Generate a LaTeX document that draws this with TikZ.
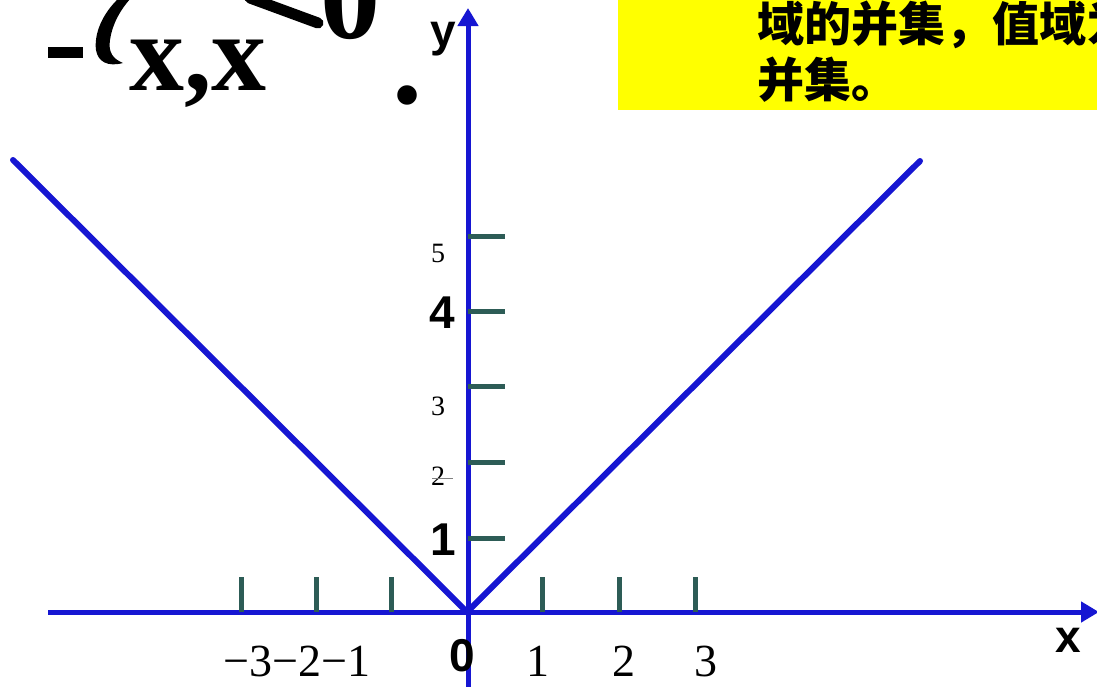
\documentclass[tikz,border=0pt]{standalone}
\usepackage{fontspec}
\setmainfont{Liberation Serif}
\setsansfont{Liberation Sans}
\newfontfamily\cjk{Noto Sans CJK SC}
\usetikzlibrary{arrows.meta}
\definecolor{axisblue}{RGB}{22,22,210}
\definecolor{tickgreen}{RGB}{45,92,86}
\definecolor{boxyellow}{RGB}{255,255,0}
\tikzset{
  axisline/.style={draw=axisblue, line width=5pt},
  vline/.style={draw=axisblue, line width=6pt, line cap=round},
  tickmark/.style={draw=tickgreen, line width=5pt},
  serifnum/.style={inner sep=0pt, font=\fontsize{46}{46}\selectfont},
  smallnum/.style={inner sep=0pt, font=\fontsize{28}{28}\selectfont},
  boldlab/.style={inner sep=0pt, font=\sffamily\bfseries\fontsize{46}{46}\selectfont},
  cjktext/.style={inner sep=0pt, anchor=west, font=\cjk\bfseries\fontsize{47}{47}\selectfont},
  bigformula/.style={inner sep=0pt, font=\bfseries\fontsize{110}{110}\selectfont},
}
\begin{document}
\begin{tikzpicture}[x=1pt,y=-1pt]
\useasboundingbox (0,0) rectangle (1097,686);
\clip (0,0) rectangle (1097,686);
% yellow box
\fill[boxyellow] (618,-2) rectangle (1100,110);
\node[cjktext] (t1) at (757,25) {域的并集，值域为};
\node[cjktext] (t2) at (757,80) {并集。};
% formula fragments
\fill[black] (48,47) rectangle (83,58);
\fill[black] (119,-2) .. controls (102,14) and (94,34) .. (96,50)
  .. controls (98,62) and (108,67) .. (123,63)
  .. controls (113,59) and (108,52) .. (110,40)
  .. controls (112,25) and (120,10) .. (131,-2) -- cycle;
\draw[black, line width=11pt, line cap=round] (250,-2) -- (318,23);
\node[bigformula, anchor=base west] (xx) at (129,90) {x,x};
\node[bigformula, anchor=base west, font=\bfseries\fontsize{120}{120}\selectfont] (zero) at (320,38) {0};
\node[bigformula, anchor=base, font=\bfseries\fontsize{120}{120}\selectfont] (dot) at (407,103) {.};
% axes
\coordinate (O) at (467,612);
\coordinate (xs) at (48,612);
\coordinate (xe) at (1099,612);
\coordinate (ys) at (468,690);
\coordinate (ye) at (468,8);
\draw[axisline, -{Triangle[length=18pt,width=20pt]}] (xs) -- (xe);
\draw[axisline, -{Triangle[length=18pt,width=20pt]}] (ys) -- (ye);
% V lines
\coordinate (L) at (13,160);
\coordinate (R) at (920,161);
\draw[vline] (L) -- (O) -- (R);
% x ticks
\foreach \i/\xx in {m3/241, m2/316, m1/391, p1/542, p2/619, p3/695}{
  \coordinate (xt\i) at (\xx,612);
  \coordinate (xtt\i) at (\xx,577);
  \draw[tickmark] (xt\i) -- (xtt\i);
}
% y ticks
\foreach \i/\yy in {1/538, 2/462, 3/386, 4/311, 5/236}{
  \coordinate (yt\i) at (468,\yy);
  \coordinate (ytt\i) at (505,\yy);
  \draw[tickmark] (yt\i) -- (ytt\i);
}
% labels
\node[boldlab, anchor=base] (ylab) at (443,46) {y};
\node[boldlab, anchor=base] (xlab) at (1068,652) {x};
\node[boldlab, anchor=base] (olab) at (462,671) {0};
\node[serifnum, anchor=base west] (neg) at (223,676) {−3−2−1};
\node[serifnum, anchor=base] (p1) at (538,676) {1};
\node[serifnum, anchor=base] (p2) at (624,676) {2};
\node[serifnum, anchor=base] (p3) at (706,676) {3};
\node[smallnum, anchor=base] (y5) at (438,262) {5};
\node[boldlab, anchor=base] (y4) at (442,328) {4};
\node[smallnum, anchor=base] (y3) at (438,415) {3};
\node[smallnum, anchor=base] (y2) at (438,485) {2};
\draw[gray, line width=1pt] (432,478) -- (453,478);
\node[boldlab, anchor=base] (y1) at (443,555) {1};
\end{tikzpicture}
\end{document}
